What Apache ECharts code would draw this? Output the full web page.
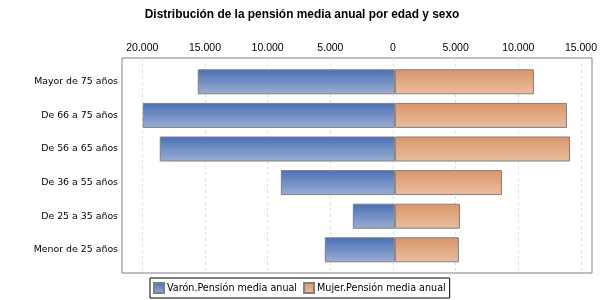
<!DOCTYPE html>
<html>
<head>
<meta charset="utf-8">
<script src="https://cdn.jsdelivr.net/npm/echarts@6/dist/echarts.min.js"></script>
<style>html,body{margin:0;padding:0;background:#fff;}#c{width:600px;height:300px;}</style>
</head>
<body>
<div id="c"></div>
<script>
var categories = ['Mayor de 75 años', 'De 66 a 75 años', 'De 56 a 65 años', 'De 36 a 55 años', 'De 25 a 35 años', 'Menor de 25 años'];
var varon = [15610, 19970, 18620, 9030, 3330, 5550];
var mujer = [11010, 13630, 13870, 8480, 5150, 5070];
var xTicks = [-20000, -15000, -10000, -5000, 0, 5000, 10000, 15000];
var seriesNames = ['Varón.Pensión media anual', 'Mujer.Pensión media anual'];

var chart = echarts.init(document.getElementById('c'), null, {renderer: 'canvas'});
function fmt(v) {
  var s = String(Math.abs(Math.round(v)));
  return s.replace(/\B(?=(\d{3})+(?!\d))/g, '.');
}
var blue = new echarts.graphic.LinearGradient(0, 0, 0, 1, [
  {offset: 0, color: '#4a6fb5'}, {offset: 1, color: '#9aaed4'}]);
var orange = new echarts.graphic.LinearGradient(0, 0, 0, 1, [
  {offset: 0, color: '#d9956a'}, {offset: 1, color: '#eabd9e'}]);
var xMin = xTicks[0], xMax = xTicks[xTicks.length - 1];

chart.setOption({
  animation: false,
  title: {
    text: 'Distribución de la pensión media anual por edad y sexo',
    left: 297, top: 4, textAlign: 'center',
    textStyle: {fontFamily: 'Liberation Sans', fontWeight: 'bold', fontSize: 11.9, color: '#000'}
  },
  legend: {
    data: seriesNames,
    left: 150, top: 278,
    itemWidth: 10, itemHeight: 10, itemGap: 6,
    padding: [4, 4, 4, 3],
    borderColor: '#000', borderWidth: 1,
    icon: 'rect',
    textStyle: {fontFamily: 'DejaVu Sans', fontSize: 9.6, color: '#000', padding: [0, 0, 0, -2]}
  },
  grid: [
    {left: 122, top: 58, width: 470, height: 215, show: true, borderColor: '#808080', borderWidth: 1, backgroundColor: 'transparent'},
    {left: 142.3, right: 15.7, top: 58, bottom: 27},
    {left: 142.3, right: 15.7, top: 65, bottom: 33.4}
  ],
  xAxis: [
    {gridIndex: 0, type: 'value', min: 0, max: 1, show: false},
    {gridIndex: 1, type: 'value', position: 'top', min: xMin, max: xMax, interval: 5000,
      axisLine: {show: false}, axisTick: {show: false},
      axisLabel: {formatter: fmt, margin: 4, fontFamily: 'Liberation Sans', fontSize: 10.5, color: '#000'},
      splitLine: {show: true, lineStyle: {color: '#e0e0e0', type: [3, 3], width: 1}}},
    {gridIndex: 2, type: 'value', min: xMin, max: xMax, show: false, splitLine: {show: false}}
  ],
  yAxis: [
    {gridIndex: 0, type: 'value', min: 0, max: 1, show: false},
    {gridIndex: 1, type: 'value', show: false, splitLine: {show: false}},
    {gridIndex: 2, type: 'category', data: categories, inverse: true,
      axisLine: {show: false}, axisTick: {show: false},
      axisLabel: {margin: 24.3, fontFamily: 'DejaVu Sans', fontSize: 9.4, color: '#000'}}
  ],
  series: [
    {name: seriesNames[0], type: 'bar', xAxisIndex: 2, yAxisIndex: 2,
      data: varon.map(function (v) { return -v; }),
      barWidth: 25, barGap: '-100%',
      itemStyle: {color: blue, borderColor: '#808080', borderWidth: 1}},
    {name: seriesNames[1], type: 'bar', xAxisIndex: 2, yAxisIndex: 2,
      data: mujer,
      barWidth: 25, barGap: '-100%',
      itemStyle: {color: orange, borderColor: '#808080', borderWidth: 1}}
  ]
});
</script>
</body>
</html>
